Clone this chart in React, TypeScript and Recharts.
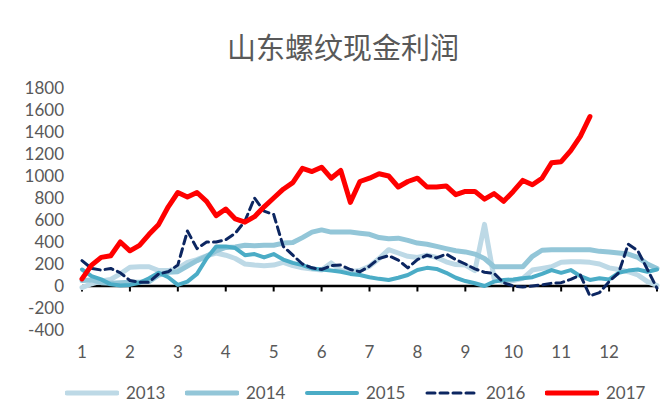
import React from 'react';
import { LineChart, Line, XAxis, YAxis, ReferenceLine, Legend } from 'recharts';

// month positions, one point every 0.2 month (1 = Jan start, 13 = Dec end)
const monthTicks = [1, 2, 3, 4, 5, 6, 7, 8, 9, 10, 11, 12];
const axisMarks = [1, 2, 3, 4, 5, 6, 7, 8, 9, 10, 11, 12, 13];
const yTicks = [-400, -200, 0, 200, 400, 600, 800, 1000, 1200, 1400, 1600, 1800];

const v2013 = [
  -15, 20, 45, 60, 110, 170, 175, 175, 140, 140, 160, 215, 240, 275, 300, 280, 250, 200, 190, 185,
  190, 215, 185, 165, 155, 145, 210, 140, 130, 140, 180, 250, 330, 300, 270, 260, 280, 260, 220, 195,
  190, 140, 560, 70, 35, 50, 70, 145, 160, 175, 215, 220, 220, 215, 200, 165, 150, 130, 100, 40, 5,
];
const v2014 = [
  50, 55, 30, 25, 30, 35, 35, 40, 100, 125, 130, 180, 230, 270, 320, 350, 355, 370, 365, 370,
  370, 390, 395, 440, 490, 510, 490, 490, 490, 480, 470, 440, 430, 435, 415, 390, 380, 360, 340, 320,
  310, 290, 250, 175, 175, 175, 175, 270, 325, 330, 330, 330, 330, 330, 315, 310, 300, 290, 260, 200, 160,
];
const v2015 = [
  150, 90, 60, 15, 5, 10, 30, 70, 120, 80, 10, 40, 110, 250, 360, 360, 345, 280, 290, 260,
  290, 240, 210, 190, 160, 150, 140, 130, 110, 100, 80, 65, 55, 75, 100, 145, 165, 155, 120, 75,
  45, 25, 0, 40, 55, 60, 70, 80, 110, 145, 120, 145, 90, 55, 70, 60, 120, 140, 150, 130, 150,
];
const v2016 = [
  230, 160, 145, 160, 120, 50, 35, 35, 110, 130, 190, 500, 340, 400, 400, 420, 480, 590, 800, 680,
  650, 360, 280, 200, 165, 150, 185, 190, 150, 130, 180, 250, 275, 235, 165, 240, 280, 255, 290, 240,
  200, 155, 125, 115, 30, 0, -10, 0, 10, 25, 30, 60, 100, -90, -60, 40, 120, 380, 320, 150, -20,
];
const v2017 = [
  65, 190, 260, 275, 400, 320, 370, 470, 560, 720, 850, 810, 850, 770, 640, 700, 610, 580, 630, 720,
  800, 880, 940, 1070, 1040, 1080, 980, 1050, 760, 950, 980, 1020, 1000, 900, 950, 980, 900, 900, 910, 830,
  860, 860, 790, 840, 770, 860, 960, 920, 980, 1120, 1130, 1230, 1360, 1540,
];

const series = [
  { key: 'y2013', name: '2013', color: '#bdd9e6', width: 5, dash: undefined },
  { key: 'y2014', name: '2014', color: '#93c6d8', width: 5, dash: undefined },
  { key: 'y2015', name: '2015', color: '#4bacc6', width: 4, dash: undefined },
  { key: 'y2016', name: '2016', color: '#0c2661', width: 3, dash: '8 5' },
  { key: 'y2017', name: '2017', color: '#ff0000', width: 5, dash: undefined },
];

const data = v2013.map((_, i) => ({
  m: Math.round((1 + i * 0.2) * 10) / 10,
  y2013: v2013[i],
  y2014: v2014[i],
  y2015: v2015[i],
  y2016: v2016[i],
  y2017: v2017[i],
}));

const font = 'Lato, "Noto Sans", sans-serif';
const textColor = '#595959';

const LegendBox = () => (
  <div style={{ display: 'flex', paddingLeft: 65, fontFamily: font, fontSize: 17, color: textColor }}>
    {series.map(s => (
      <div key={s.key} style={{ width: 120, display: 'flex', alignItems: 'center' }}>
        <svg width={54} height={10}>
          <line x1={2} y1={5} x2={52} y2={5} stroke={s.color} strokeWidth={s.width}
            strokeDasharray={s.dash} strokeLinecap="round" />
        </svg>
        <span style={{ marginLeft: 7 }}>{s.name}</span>
      </div>
    ))}
  </div>
);

export default function App() {
  return (
    <div style={{ position: 'relative', width: 668, height: 416, margin: -8, background: '#fff' }}>
      <div style={{ position: 'absolute', left: 4, top: 0, width: 2, height: 416, background: '#d9d9d9' }} />
      <div style={{
        position: 'absolute', top: 30, left: 0, width: 686, textAlign: 'center',
        fontFamily: '"Noto Sans CJK SC", sans-serif', fontSize: 29, lineHeight: '32px', color: textColor,
      }}>
        山东螺纹现金利润
      </div>
      <LineChart width={668} height={416} data={data} margin={{ top: 88, right: 11, bottom: 40, left: 0 }}>
        <XAxis dataKey="m" type="number" domain={[1, 13]} ticks={monthTicks} axisLine={false}
          tickLine={false} tickMargin={10} height={46} interval={0}
          tick={{ fill: textColor, fontSize: 17, fontFamily: font }} />
        <YAxis domain={[-400, 1800]} ticks={yTicks} axisLine={false} tickLine={false} width={82}
          tickMargin={12} interval={0} tick={{ fill: textColor, fontSize: 17, fontFamily: font }} />
        <ReferenceLine y={0} stroke="#000" strokeWidth={2.5} />
        {axisMarks.map(x => (
          <ReferenceLine key={x} segment={[{ x, y: 0 }, { x, y: -50 }]} stroke="#000" strokeWidth={2} />
        ))}
        {series.map(s => (
          <Line key={s.key} dataKey={s.key} name={s.name} type="linear" stroke={s.color}
            strokeWidth={s.width} strokeDasharray={s.dash} dot={false} isAnimationActive={false}
            strokeLinejoin="round" strokeLinecap="round" />
        ))}
        <Legend verticalAlign="middle" layout="horizontal" content={<LegendBox />}
          wrapperStyle={{ position: 'absolute', top: 382, left: 0, width: 668 }} />
      </LineChart>
    </div>
  );
}
